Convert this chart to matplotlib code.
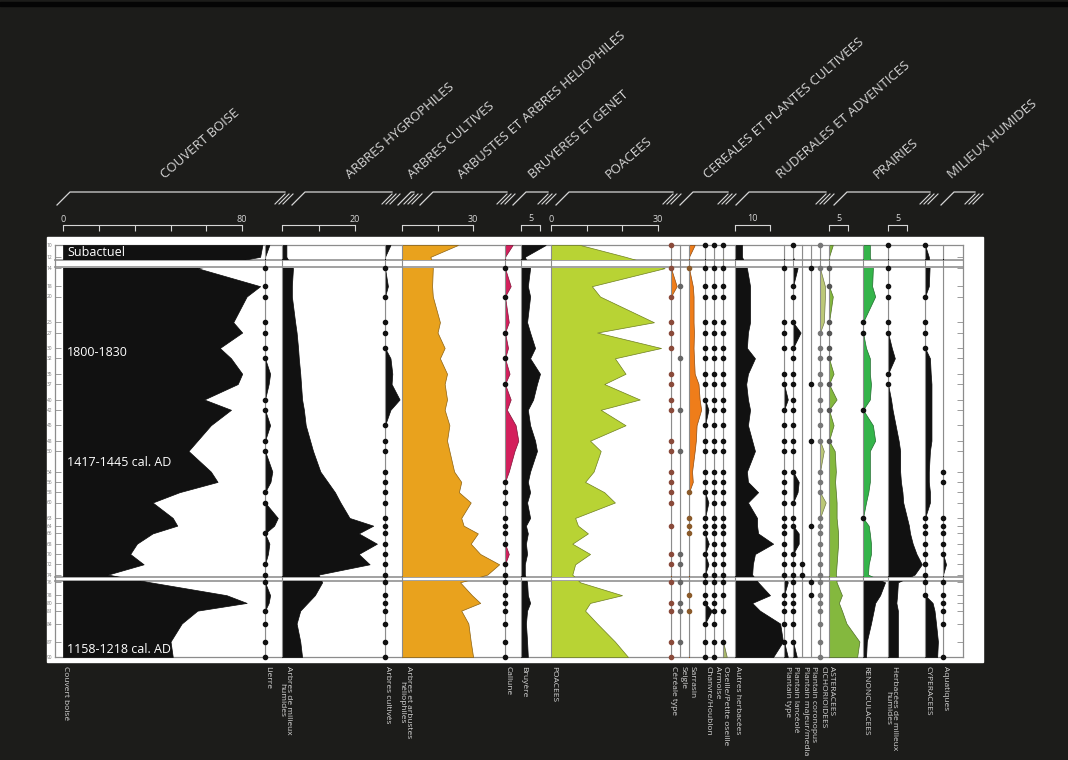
import matplotlib
matplotlib.use("Agg")
import matplotlib.pyplot as plt
import matplotlib.colors as mcolors
import numpy as np

W, H = 1068, 760
BG = "#1c1c1a"
PALE = "#d6d6d6"
LINE = "#8c8c8c"

plt.rcParams["font.family"] = ["Open Sans", "DejaVu Sans"]

# sample depths (cm)
depths = np.array([10, 12.3, 14.5, 18, 20, 25, 27, 30, 32, 35, 37, 40, 42, 45, 48, 50, 54, 56,
                   58, 60, 63, 64.5, 66, 68, 70, 72, 74, 75.5, 78, 79.5, 81, 83.5, 87, 90])

# zones: subactuel / 1800-1445 / 1158-1218 cal. AD
zones = [(10, 12.8), (14.5, 74.2), (75.3, 90)]

# percentages per taxon (0.3 = trace, drawn as a dot)
couvert = [89, 88, 60, 88, 82, 76, 80, 70, 75, 80, 78, 63, 75, 66, 60, 56, 66, 69,
           52, 40, 49, 51, 40, 33, 30, 36, 20, 39, 73, 82, 60, 53, 48, 49]
lierre = [1.2, 0, .3, .3, .3, .3, .3, .3, .3, 1.4, 1.0, .3, .3, 1.4, .3, .3, 2.0, 1.5,
          .3, .3, 3.5, 2.5, .3, 1.2, .8, .3, .3, .3, 1.4, 1.0, .3, .3, .3, .3]
arb_humides = [1.2, 1.2, 3.0, 2.7, 2.7, 3.6, 4.0, 4.4, 4.6, 5.0, 5.2, 5.5, 6.0, 6.5, 7.7, 8.5, 10.5, 12.5,
               14.5, 16, 18.5, 25, 21, 26, 21, 24, 10, 11, 9, 7, 5, 4, 5, 5.5]
arb_cultives = [1.5, 0, .3, .8, .3, .3, .3, .3, 1.5, 2.0, 1.8, 4.0, 1.5, .3, .3, .3, .3, .3,
                .3, .3, .3, .3, .3, .3, .3, .3, .3, .3, .3, .3, .3, .3, .3, .3]
heliophiles = [23.6, 12, 13, 12.7, 13, 16, 15, 18, 16, 19, 18, 19, 18, 20, 19, 20, 22, 25,
               24, 29, 25, 26, 32, 29, 33, 41, 36, 24.5, 29.5, 33, 25, 28, 29, 30]
callune = [2.0, 0, .3, 1.5, .3, 1.0, .3, .8, .3, 1.2, .3, 1.5, .5, 2.8, 3.5, 2.5, 1.0, .3,
           .3, .3, .3, .3, .3, .3, 1.0, .3, .3, .3, .3, .3, .3, .3, .3, .3]
bruyere = [6.5, 1.0, 2.4, 1.8, 2.4, 1.6, 2.4, 3.7, 2.4, 5.0, 4.2, 3.2, 1.8, 2.4, 3.7, 4.2, 2.4, 1.8,
           2.4, 1.6, 2.4, 1.3, 1.8, 1.3, 1.6, 1.0, 1.0, 1.6, 1.8, 2.4, 1.6, 1.3, 1.6, 1.8]
poacees = [8.2, 21, 32, 11.5, 13.8, 29, 13, 31, 18, 21, 15, 25, 14, 21, 11, 14, 12, 9.6,
           15, 18, 6.8, 7.6, 10.4, 6, 11, 6.8, 6, 8.2, 20, 11, 9.6, 13, 18, 21.7]
cereale = [.3, 0, .3, 1.5, .3, .3, .3, .3, 0, .3, .3, .3, .3, 0, .3, .3, .3, .3,
           .3, .3, 0, .3, 0, 0, .3, .3, 0, .3, 0, .3, .3, 0, .3, .3]
seigle = [0, 0, 0, .3, 0, 0, 0, 0, .3, 0, 0, 0, .3, 0, 0, .3, 0, 0,
          0, 0, 0, 0, 0, 0, .3, .3, 0, .3, 0, .3, .3, 0, .3, 0]
sarrasin = [1.5, 0, .3, 1.0, 1.2, 1.2, 1.3, 1.2, 1.3, 1.5, 2.5, 2.8, 3.2, 2.0, 1.8, 1.5, .8, 1.0,
            .3, 0, .3, .3, .3, 0, 0, 0, 0, 0, .3, 0, .3, 0, 0, 0]
chanvre = [.3, 0, .3, .3, .3, .3, .3, .3, .3, .3, .3, .3, .9, .3, .3, .3, .3, .3,
           .3, .9, .3, .3, .3, 1.0, .3, .9, .3, .3, .3, .3, 1.8, .3, .3, .3]
armoise = [.3, 0] + [.3] * 32
oseille = [.3, 0, .3, .3, .3, .3, .3, .3, .3, .3, .3, .3, .3, .3, .3, .3, .3, .3,
           .3, .3, .3, .3, .3, .3, .3, .3, .3, .3, .3, 0, .3, 0, .3, 1.0]
autres_herb = [2.0, 2.0, 3.4, 4.3, 4.3, 4.3, 3.7, 3.4, 5.7, 3.7, 3.2, 3.7, 4.3, 3.7, 4.9, 5.7, 3.4, 3.7,
               6.6, 3.7, 6.3, 6.3, 6.6, 10.9, 5.7, 5.1, 4.9, 6.6, 10, 4.9, 7.1, 12.9, 13.7, 10.9]
plantain_type = [0, 0, .3, 0, 0, .3, .3, .3, 0, .3, .3, 1.0, .3, .3, .3, .3, .3, .3,
                 .3, .3, .3, .3, .3, .3, .3, .3, .3, 1.0, .3, .3, .3, .3, .3, 1.0]
plantain_lanc = [.3, 0, 1.2, .3, .3, .3, 2.0, .3, .3, .3, .3, .3, .3, .3, .3, .3, .3, 1.5,
                 1.2, .3, .3, .3, 1.5, 1.5, .3, .3, .3, .3, .3, .3, .3, .3, .3, 1.0]
plantain_maj = [0, 0, 0, 0, 0, 0, 0, 0, 0, 0, 0, 0, 0, 0, 0, 0, 0, 0,
                0, 0, 0, 0, 0, 0, 0, .3, .3, 0, 0, 0, 0, 0, 0, 0]
plantain_cor = [0, 0, .3, 0, 0, 0, 0, 0, 0, 0, .3, 0, 0, 0, .3, 0, 0, 0,
                0, 0, 0, .3, 0, 0, 0, 0, 0, .3, .3, 0, 0, 0, 0, 0]
cichorio = [.3, 0, .3, 1.3, 1.3, 1.0, .3, .3, .3, .3, .3, .3, .3, .3, .3, 1.0, .3, .3,
            .3, 1.5, .3, .3, .3, .3, .3, .3, .3, .3, .3, .3, .3, .3, .3, .3]
asteraceae = [1.0, 0, .3, .3, 1.0, .3, .3, .3, .3, 1.2, .3, 2.0, .3, 1.2, .3, 1.5, 1.8, 1.6,
              1.8, 2.0, 2.0, 2.2, 2.4, 2.4, 2.2, 2.0, 1.8, 2.0, 3.4, 2.6, 3.4, 4.6, 8.0, 7.4]
renonc = [1.8, 1.8, 2.6, 2.4, 3.2, .3, .3, .8, 1.8, 1.8, 2.1, 1.8, .3, 2.6, 3.2, 1.8, 1.8, 1.8,
          1.4, .8, .3, 1.5, 1.8, 2.1, 2.1, 1.5, 1.3, 5.8, 4.5, 3.2, 2.8, 2.1, 1.0, .8]
herb_humides = [.3, 0, .3, .3, .3, .3, .3, 1.0, 1.8, .3, .3, .8, 1.2, 2.0, 2.8, 3.2, 3.2, 3.4,
                3.8, 4.0, 5.0, 5.5, 5.8, 6.5, 7.5, 8.9, 7.0, 2.6, 2.4, 2.2, 2.6, 2.6, 2.6, 2.6]
cyperaceae = [.3, 1.0, 1.2, 1.0, .3, .3, .3, .3, 1.3, 1.5, 1.7, 1.7, 1.7, 1.7, 1.7, 1.3, 1.0, 1.0,
              1.3, 1.3, .3, .3, .3, .3, .3, .3, .3, .3, .3, 2.0, 2.5, 2.9, 3.4, 3.2]
aquatiques = [0, 0, 0, 0, 0, 0, 0, 0, 0, 0, 0, 0, 0, 0, 0, 0, .3, .3,
              0, 0, .3, .3, .3, .3, .3, .8, 0, .3, .3, .3, .3, .3, 0, .3]

BLACK = "#111111"
# (label, left edge px, px per %, values, fill colour(s), dot colour)
columns = [
    ("Couvert boisé", 63, 2.24, couvert, BLACK, BLACK),
    ("Lierre", 265, 3.65, lierre, BLACK, BLACK),
    ("Arbres de milieux\nhumides", 282, 3.65, arb_humides, BLACK, BLACK),
    ("Arbres cultivés", 385, 3.65, arb_cultives, BLACK, BLACK),
    ("Arbres et arbustes\nhéliophiles", 402, 2.37, heliophiles, "#e9a21d", BLACK),
    ("Callune", 505, 3.8, callune, "#d41f5c", BLACK),
    ("Bruyère", 521, 3.8, bruyere, BLACK, BLACK),
    ("POACEES", 551, 3.55, poacees, "#b8d334", BLACK),
    ("Céréale type", 671, 3.8, cereale, "#ef7d1a", "#8a4a3a"),
    ("Seigle", 680, 3.8, seigle, "#ef7d1a", "#666666"),
    ("Sarrasin", 689, 3.8, sarrasin, "#ef7d1a", "#8a5a2a"),
    ("Chanvre/Houblon", 705, 3.8, chanvre, BLACK, BLACK),
    ("Armoise", 714, 3.8, armoise, BLACK, BLACK),
    ("Oseille/Petite oseille", 723, 3.8, oseille, "#a9b86a", BLACK),
    ("Autres herbacées", 735, 3.5, autres_herb, BLACK, BLACK),
    ("Plantain type", 784, 3.8, plantain_type, BLACK, BLACK),
    ("Plantain lancéolé", 793, 3.8, plantain_lanc, BLACK, BLACK),
    ("Plantain majeur/media", 802, 3.8, plantain_maj, BLACK, BLACK),
    ("Plantain coronopus", 811, 3.8, plantain_cor, BLACK, BLACK),
    ("CICHORIOIDEES", 820, 3.8, cichorio, "#bcc878", "#777777"),
    ("ASTERACEES", 829, 3.8, asteraceae, "#84b83e", "#555555"),
    ("RENONCULACEES", 863, 3.8, renonc, ("#34b44a", "#34b44a", BLACK), BLACK),
    ("Herbacées de milieux\nhumides", 888, 3.8, herb_humides, BLACK, BLACK),
    ("CYPERACEES", 925, 3.8, cyperaceae, BLACK, BLACK),
    ("Aquatiques", 943, 3.8, aquatiques, BLACK, BLACK),
]

# scale bars: column label, max, tick values, tick labels, centred label
scales = [
    ("Couvert boisé", 80, [0, 16, 32, 48, 64, 80], ["0", "", "", "", "", "80"], None),
    ("Arbres de milieux\nhumides", 20, [0, 10, 20], ["", "", "20"], None),
    ("Arbres et arbustes\nhéliophiles", 30, [0, 15, 30], ["", "", "30"], None),
    ("Bruyère", 5, [0, 5], ["", ""], "5"),
    ("POACEES", 30, [0, 10, 20, 30], ["0", "", "", "30"], None),
    ("Autres herbacées", 10, [0, 10], ["", ""], "10"),
    ("ASTERACEES", 5, [0, 5], ["", ""], "5"),
    ("Herbacées de milieux\nhumides", 5, [0, 5], ["", ""], "5"),
]

# ecological groups: title, bracket start/end px, title anchor px
groups = [
    ("COUVERT BOISE", 57, 285, 165),
    ("ARBRES HYGROPHILES", 292, 392, 350),
    ("ARBRES CULTIVES", 398, 414, 412),
    ("ARBUSTES ET ARBRES HELIOPHILES", 420, 507, 462),
    ("BRUYERES ET GENET", 513, 548, 533),
    ("POACEES", 556, 673, 610),
    ("CEREALES ET PLANTES CULTIVEES", 680, 728, 708),
    ("RUDERALES ET ADVENTICES", 736, 826, 781),
    ("PRAIRIES", 834, 930, 878),
    ("MILIEUX HUMIDES", 941, 975, 952),
]

TOP_PX, PX_PER_CM = 245, 5.15


def ypx(d):
    return TOP_PX + (d - 10) * PX_PER_CM


fig = plt.figure(figsize=(W / 100, H / 100), dpi=100, facecolor=BG)

# background layer in pixel units
frame = fig.add_axes([0, 0, 1, 1])
frame.set_xlim(0, W)
frame.set_ylim(H, 0)
frame.axis("off")
frame.set_zorder(-2)
frame.add_patch(plt.Rectangle((0, 2), W, 4, color="#050505"))
frame.add_patch(plt.Rectangle((47, 237), 936, 425, color="white"))
for yb in (260.3, 267.4, 576.5, 580.6):
    frame.plot([55, 963], [yb, yb], color="#9a9a9a", lw=1.3)
for lab, x0, k, vals, col, dc in columns[1:]:
    frame.plot([x0, x0], [TOP_PX, ypx(90)], color=LINE, lw=0.8)

# bottom taxon names
for lab, x0, k, vals, col, dc in columns:
    frame.text(x0 + 3, 666, lab, rotation=-90, ha="center", va="top",
               fontsize=6, color=PALE, linespacing=1.0)

# group brackets and titles
for title, xa, xb, xt in groups:
    frame.plot([xa, xa + 13, xb], [205, 192, 192], color=PALE, lw=0.9)
    for off in (0, 4, 8):
        frame.plot([xb - 10 + off, xb + off], [204, 194], color=PALE, lw=0.8)
    frame.text(xt, 179, title, rotation=41, rotation_mode="anchor",
               ha="left", va="baseline", fontsize=9.5, color=PALE)

# depth axis
dax = fig.add_axes([55 / W, 1 - ypx(90) / H, (963 - 55) / W, (ypx(90) - TOP_PX) / H])
dax.set_zorder(-1)
dax.patch.set_visible(False)
dax.set_ylim(90, 10)
dax.set_xticks([])
dax.set_yticks(depths)
dax.set_yticklabels([f"{d:.0f}" for d in depths])
dax.tick_params(axis="y", direction="in", length=4, width=0.6, color=LINE,
                labelsize=3.5, labelcolor="#777777", pad=2, right=True)
for s in dax.spines.values():
    s.set_color(LINE)
    s.set_linewidth(0.9)

# taxon curves, one axes per column and zone
col_x = {}
for lab, x0, k, vals, col, dc in columns:
    vals = np.asarray(vals, dtype=float)
    fillv = np.where(vals >= 0.5, vals, 0.0)
    wpx = max(fillv.max() * k, 10) + 6
    col_x[lab] = (x0, k)
    for zi, (dt, db) in enumerate(zones):
        y0, y1 = ypx(dt), ypx(db)
        ax = fig.add_axes([x0 / W, 1 - y1 / H, wpx / W, (y1 - y0) / H])
        ax.set_xlim(0, wpx / k)
        ax.set_ylim(db, dt)
        ax.axis("off")
        fc = col[zi] if isinstance(col, tuple) else col
        edge = np.array(mcolors.to_rgb(fc)) * 0.6
        if fillv.max() > 0:
            ax.fill_betweenx(depths, 0, fillv, facecolor=fc, edgecolor=edge, lw=0.5)
        if lab != "Couvert boisé":
            ax.axvline(0, color=LINE, lw=0.8)
        m = (vals > 0) & (vals < 0.5) & (depths >= dt - 0.01) & (depths <= db + 0.01)
        if m.any():
            ax.plot(np.zeros(m.sum()), depths[m], "o", ms=3, color=dc,
                    clip_on=False, zorder=4)
        if lab == "Couvert boisé":
            if zi == 0:
                ax.text(1.8, 11.4, "Subactuel", color="white", fontsize=9, va="center")
            elif zi == 1:
                ax.text(1.8, 30.8, "1800-1830", color="white", fontsize=9, va="center")
                ax.text(1.8, 52.3, "1417-1445 cal. AD", color="white", fontsize=9, va="center")
            else:
                ax.text(1.8, 88.6, "1158-1218 cal. AD", color="white", fontsize=9, va="center")

# scale bars above the columns
for lab, vmax, ticks, tlabels, centre in scales:
    x0, k = col_x[lab]
    sax = fig.add_axes([x0 / W, 1 - 229 / H, vmax * k / W, 4 / H])
    sax.set_xlim(0, vmax)
    sax.patch.set_visible(False)
    for name, s in sax.spines.items():
        s.set_visible(name == "top")
    sax.spines["top"].set_color(PALE)
    sax.spines["top"].set_linewidth(0.8)
    sax.set_yticks([])
    sax.xaxis.set_ticks_position("top")
    sax.set_xticks(ticks)
    sax.set_xticklabels(tlabels)
    sax.tick_params(axis="x", direction="in", length=4, width=0.8, color=PALE,
                    labelsize=6.5, labelcolor=PALE, pad=1)
    if centre:
        sax.text(vmax / 2, 1.6, centre, transform=sax.get_xaxis_transform(),
                 ha="center", va="bottom", fontsize=6.5, color=PALE)

fig.savefig("out.png", dpi=100, facecolor=BG)
